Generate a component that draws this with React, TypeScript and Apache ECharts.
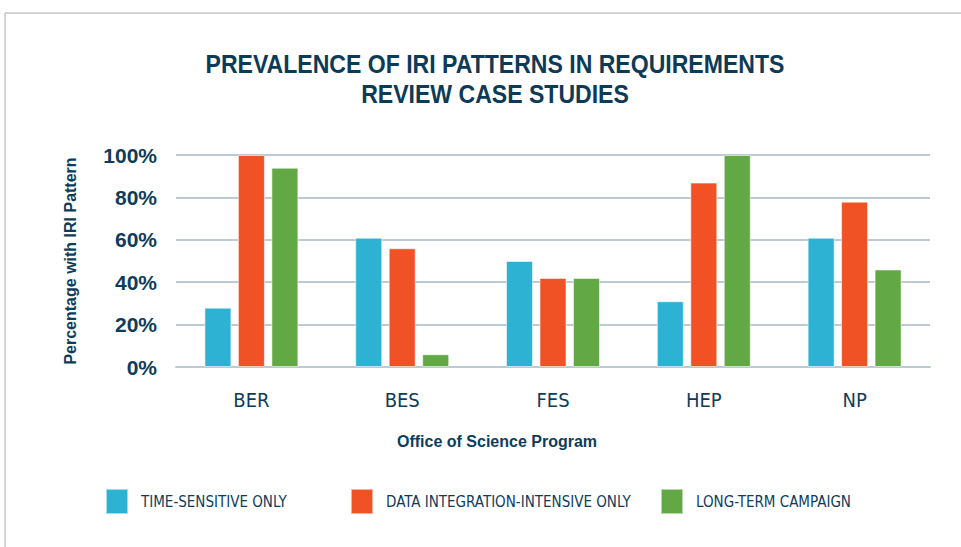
import React, { useEffect, useRef } from "react";
import * as echarts from "echarts";

const categories = ["BER", "BES", "FES", "HEP", "NP"];
const seriesNames = ["TIME-SENSITIVE ONLY", "DATA INTEGRATION-INTENSIVE ONLY", "LONG-TERM CAMPAIGN"];
const timeSensitive = [28, 61, 50, 31, 61];
const dataIntegration = [100, 56, 42, 87, 78];
const longTerm = [94, 6, 42, 100, 46];
const yTicks = [0, 20, 40, 60, 80, 100];
const colors = ["#2DB2D3", "#F15225", "#62A845"];

const NAVY = "#0E3D5C";
const COND = "'DejaVu Sans Condensed', 'Liberation Sans', sans-serif";
const SANS = "'Liberation Sans', Arial, sans-serif";

export default function App() {
  const ref = useRef<HTMLDivElement>(null);
  useEffect(() => {
    const chart = echarts.init(ref.current!, null, { renderer: "svg" });
    const values = [timeSensitive, dataIntegration, longTerm];
    const legendLefts = [105, 350, 660];
    chart.setOption({
      animation: false,
      backgroundColor: "#ffffff",
      grid: { left: 176, right: 31, top: 155, bottom: 180, containLabel: false },
      legend: seriesNames.map((n, i) => ({
        data: [n],
        left: legendLefts[i],
        top: 488,
        padding: 0,
        itemWidth: 22,
        itemHeight: 25,
        icon: "rect",
        textStyle: {
          color: NAVY,
          fontFamily: COND,
          fontSize: 15,
          fontWeight: "normal",
          padding: [0, 0, 0, 8],
        },
      })),
      xAxis: {
        type: "category",
        data: categories,
        axisLine: { show: true, lineStyle: { color: "#BCCAD4", width: 2 } },
        axisTick: { show: false },
        axisLabel: {
          color: NAVY,
          fontFamily: COND,
          fontSize: 20,
          margin: 23,
        },
      },
      yAxis: {
        type: "value",
        min: 0,
        max: 100,
        interval: 20,
        axisLine: { show: false },
        axisTick: { show: false },
        splitLine: { lineStyle: { color: "#BCCAD4", width: 2 } },
        axisLabel: {
          color: NAVY,
          fontFamily: SANS,
          fontWeight: "bold",
          fontSize: 21,
          margin: 19,
          formatter: (v: number) => (yTicks.includes(v) ? v + "%" : ""),
        },
        name: "Percentage with IRI Pattern",
        nameLocation: "middle",
        nameGap: 98,
        nameTextStyle: { color: NAVY, fontFamily: SANS, fontWeight: "bold", fontSize: 16 },
      },
      series: seriesNames.map((n, i) => ({
        name: n,
        type: "bar",
        data: values[i],
        barWidth: 27,
        barGap: "24%",
        itemStyle: { color: colors[i], borderColor: "rgba(255,255,255,0.55)", borderWidth: 1 },
      })),
      graphic: [
        { type: "line", shape: { x1: 5, y1: 13, x2: 961, y2: 13 }, style: { stroke: "#C6C6C6", lineWidth: 1.5 } },
        { type: "line", shape: { x1: 5, y1: 13, x2: 5, y2: 547 }, style: { stroke: "#C6C6C6", lineWidth: 1.5 } },
        {
          type: "text",
          x: 495,
          y: 49,
          scaleX: 0.887,
          style: {
            text: "PREVALENCE OF IRI PATTERNS IN REQUIREMENTS\nREVIEW CASE STUDIES",
            textAlign: "center",
            fill: "#0C3A57",
            font: `bold 26px ${SANS}`,
            lineHeight: 30,
          },
        },
        {
          type: "text",
          x: 497,
          y: 433,
          style: {
            text: "Office of Science Program",
            textAlign: "center",
            fill: NAVY,
            font: `bold 16px ${SANS}`,
          },
        },
      ],
    });
    return () => chart.dispose();
  }, []);
  return <div ref={ref} style={{ position: "absolute", left: 0, top: 0, width: 961, height: 547 }} />;
}
